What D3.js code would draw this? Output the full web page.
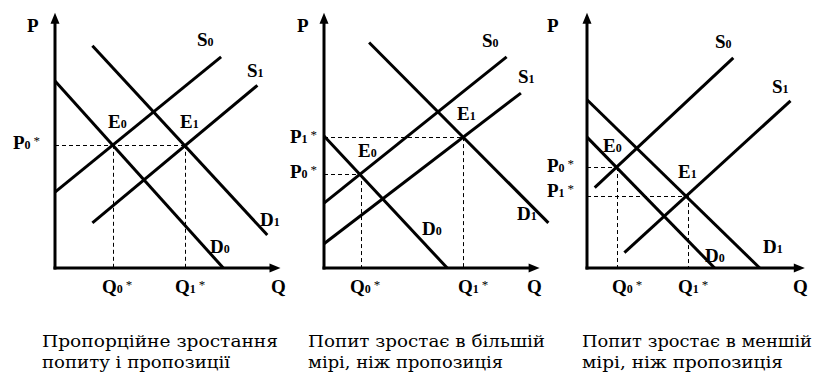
<!DOCTYPE html>
<html>
<head>
<meta charset="utf-8">
<script src="https://cdn.jsdelivr.net/npm/d3@7"></script>
<style>
  body { margin: 0; background: #fff; }
  svg { display: block; }
</style>
</head>
<body>
<div id="chart"></div>
<script>
// curves as [q start, p start, q end, p end], one entry per panel (units 0..10)
const supply0 = [[0, 3.45, 7.55, 9.6], [0, 2.95, 8.3, 9.6], [0.35, 3.65, 6.65, 9.55]];
const supply1 = [[1.7, 2.05, 9.2, 8.3], [0, 1.1, 8.95, 7.95], [1.7, 0.7, 9.25, 7.6]];
const demand0 = [[0, 8.5, 7.65, 0], [0, 6.0, 5.6, 0], [0, 5.95, 5.8, 0]];
const demand1 = [[1.7, 10.1, 9.65, 1.5], [2.05, 10.25, 10.2, 2.05], [0, 7.65, 7.85, 0]];

// equilibria [q, p]
const equil0 = [[2.64, 5.6], [1.68, 4.27], [1.36, 4.59]];
const equil1 = [[5.9, 5.6], [6.32, 5.95], [4.59, 3.27]];

const captions = [
  ["Пропорційне зростання", "попиту і пропозиції"],
  ["Попит зростає в більшій", "мірі, ніж пропозиція"],
  ["Попит зростає в меншій", "мірі, ніж пропозиція"]
];

// layout
const width = 819, height = 376;
const panelLeft = [55, 324, 587];
const baseY = 268, unit = 22;
const xEnd = [10.25, 9.8, 9.9], yEnd = 11.6;

// label text: [letter, subscript, star, x, y]
const labelPos = [
  [["P", "", 0, 27, 32], ["S", "0", 0, 197, 46], ["S", "1", 0, 247, 77], ["E", "0", 0, 108, 128],
   ["E", "1", 0, 180, 128], ["D", "1", 0, 260, 226], ["D", "0", 0, 210, 253], ["P", "0", 1, 13, 149],
   ["Q", "0", 1, 102, 293], ["Q", "1", 1, 175, 293], ["Q", "", 0, 271, 293]],
  [["P", "", 0, 297, 32], ["S", "0", 0, 482, 47], ["S", "1", 0, 518, 83], ["E", "1", 0, 457, 120],
   ["E", "0", 0, 358, 157], ["D", "0", 0, 422, 235], ["D", "1", 0, 517, 220], ["P", "1", 1, 290, 143],
   ["P", "0", 1, 290, 178], ["Q", "0", 1, 350, 293], ["Q", "1", 1, 458, 293], ["Q", "", 0, 527, 293]],
  [["P", "", 0, 547, 32], ["S", "0", 0, 715, 48], ["S", "1", 0, 772, 93], ["E", "0", 0, 603, 152],
   ["E", "1", 0, 678, 178], ["D", "0", 0, 705, 262], ["D", "1", 0, 763, 253], ["P", "0", 1, 547, 172],
   ["P", "1", 1, 547, 197], ["Q", "0", 1, 612, 293], ["Q", "1", 1, 678, 293], ["Q", "", 0, 793, 293]]
];
const captionX = [42, 308, 582];
const captionW = [[236, 188], [237, 195], [230, 201]];

const svg = d3.select("#chart").append("svg")
  .attr("width", width).attr("height", height);

const crisp = v => Math.round(v) + 0.5;

panelLeft.forEach((ox, i) => {
  const x = d3.scaleLinear().domain([0, 10]).range([ox, ox + 10 * unit]);
  const y = d3.scaleLinear().domain([0, 10]).range([baseY, baseY - 10 * unit]);
  const g = svg.append("g");

  // dashed guides
  [equil0[i], equil1[i]].forEach(e => {
    g.append("line")
      .attr("x1", x(0)).attr("x2", x(e[0]))
      .attr("y1", crisp(y(e[1]))).attr("y2", crisp(y(e[1])))
      .attr("stroke", "#000").attr("stroke-width", 1).attr("stroke-dasharray", "4,3");
    g.append("line")
      .attr("x1", crisp(x(e[0]))).attr("x2", crisp(x(e[0])))
      .attr("y1", y(e[1])).attr("y2", y(0))
      .attr("stroke", "#000").attr("stroke-width", 1).attr("stroke-dasharray", "4,3");
  });

  // supply / demand curves
  g.selectAll("line.curve")
    .data([supply0[i], supply1[i], demand0[i], demand1[i]])
    .join("line")
      .attr("class", "curve")
      .attr("x1", d => x(d[0])).attr("y1", d => y(d[1]))
      .attr("x2", d => x(d[2])).attr("y2", d => y(d[3]))
      .attr("stroke", "#000").attr("stroke-width", 3);

  // axes with arrows
  const tipY = y(yEnd), tipX = x(xEnd[i]);
  g.append("line").attr("x1", x(0)).attr("x2", x(0))
    .attr("y1", y(0) + 1.5).attr("y2", tipY + 8)
    .attr("stroke", "#000").attr("stroke-width", 3);
  g.append("line").attr("x1", x(0) - 1.5).attr("x2", tipX - 8)
    .attr("y1", y(0)).attr("y2", y(0))
    .attr("stroke", "#000").attr("stroke-width", 3);
  g.append("path")
    .attr("d", `M${x(0)},${tipY}L${x(0) - 4.5},${tipY + 11}L${x(0) + 4.5},${tipY + 11}Z`);
  g.append("path")
    .attr("d", `M${tipX},${y(0)}L${tipX - 11},${y(0) - 4.5}L${tipX - 11},${y(0) + 4.5}Z`);

  // labels
  labelPos[i].forEach(l => {
    const t = g.append("text")
      .attr("x", l[3]).attr("y", l[4])
      .attr("font-family", "'Liberation Serif', 'Times New Roman', serif")
      .attr("font-size", 19)
      .attr("font-weight", "bold")
      .text(l[0]);
    if (l[1]) t.append("tspan").attr("font-size", 12).text(l[1]);
    if (l[2]) t.append("tspan").attr("font-size", 13).attr("font-weight", "normal")
      .attr("dx", 3).attr("dy", -4).text("*");
  });

  // caption
  captions[i].forEach((c, k) => {
    svg.append("text")
      .attr("x", captionX[i]).attr("y", 347 + k * 21)
      .attr("font-family", "'DejaVu Serif', serif")
      .attr("font-size", 17)
      .attr("textLength", captionW[i][k])
      .attr("lengthAdjust", "spacingAndGlyphs")
      .text(c);
  });
});
</script>
</body>
</html>
